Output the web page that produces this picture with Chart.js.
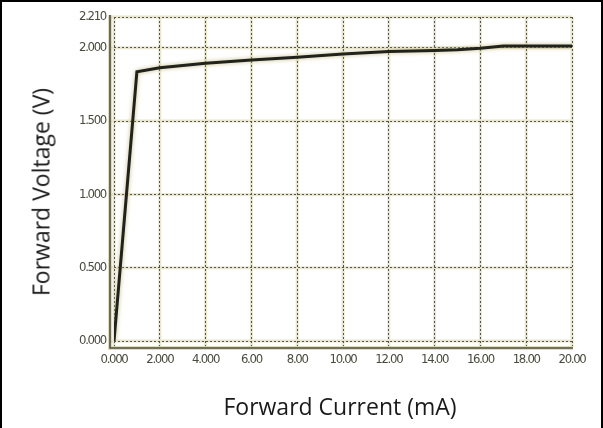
<!DOCTYPE html>
<html>
<head>
<meta charset="utf-8">
<script src="https://cdn.jsdelivr.net/npm/chart.js@4.4.1/dist/chart.umd.min.js"></script>
<style>
  html, body { margin: 0; padding: 0; background: #fff; }
  #wrap { position: relative; width: 603px; height: 428px; overflow: hidden; background: #fff; }
  #plot { position: absolute; left: 0; top: 0; width: 603px; height: 428px; filter: blur(0.5px); }
  #frame { position: absolute; left: 0; top: 0; width: 603px; height: 428px; box-sizing: border-box;
           border-top: 2px solid #000; border-left: 2px solid #000; border-right: 2px solid #000; pointer-events: none; }
  .axis-title { position: absolute; font-family: "Open Sans", "Noto Sans", sans-serif; font-size: 23px; color: #1a1a1a; white-space: nowrap; line-height: 1; }
  #ytitle { left: 41px; top: 192px; transform: translate(-50%, -50%) rotate(-90deg); }
  #xtitle { left: 340px; top: 406px; transform: translate(-50%, -50%); }
</style>
</head>
<body>
<div id="wrap">
  <div id="plot"><canvas id="c" width="603" height="428"></canvas></div>
  <div id="ytitle" class="axis-title">Forward Voltage (V)</div>
  <div id="xtitle" class="axis-title">Forward Current (mA)</div>
  <div id="frame"></div>
</div>
<script>
// Forward voltage vs forward current of an LED
const currentMA = [0, 1, 2, 4, 6, 8, 10, 12, 14, 15, 16, 17, 20];
const voltageV  = [0, 1.837, 1.864, 1.894, 1.916, 1.935, 1.957, 1.974, 1.982, 1.986, 1.997, 2.012, 2.012];

const xTickValues = [0, 2, 4, 6, 8, 10, 12, 14, 16, 18, 20];
const xTickLabels = ['0.000', '2.000', '4.000', '6.00', '8.00', '10.00', '12.00', '14.00', '16.00', '18.00', '20.00'];
const yTickValues = [0, 0.5, 1.0, 1.5, 2.0, 2.21];
const yTickLabels = ['0.000', '0.500', '1.000', '1.500', '2.000', '2.210'];

const points = currentMA.map((x, i) => ({ x: x, y: voltageV[i] }));

const gridColor = '#55554a';
const tickFont = { family: '"DejaVu Sans Condensed", "DejaVu Sans", sans-serif', size: 13 };

// tight letter spacing for the narrow tick labels
const tightText = {
  id: 'tightText',
  beforeDraw(chart) { chart.ctx.letterSpacing = '-1.3px'; }
};

// pale halo under grid lines, plus the axis lines offset from the data area
const backdrop = {
  id: 'backdrop',
  beforeDraw(chart) {
    const { ctx, chartArea: a, scales: { x, y } } = chart;
    ctx.save();
    ctx.strokeStyle = 'rgba(228,226,200,0.85)';
    ctx.lineWidth = 3;
    ctx.beginPath();
    xTickValues.forEach(v => { const p = x.getPixelForValue(v); ctx.moveTo(p, a.top); ctx.lineTo(p, a.bottom + 6); });
    yTickValues.forEach(v => { const p = y.getPixelForValue(v); ctx.moveTo(a.left - 4, p); ctx.lineTo(a.right, p); });
    ctx.stroke();
    ctx.restore();
  },
  beforeDatasetsDraw(chart) {
    const { ctx, chartArea: a } = chart;
    ctx.save();
    ctx.strokeStyle = 'rgba(220,216,180,0.9)';
    ctx.lineWidth = 4;
    ctx.beginPath();
    ctx.moveTo(a.left - 4, a.top - 2);
    ctx.lineTo(a.left - 4, a.bottom + 7);
    ctx.lineTo(a.right + 1, a.bottom + 7);
    ctx.stroke();
    ctx.strokeStyle = '#4e4e40';
    ctx.lineWidth = 1.6;
    ctx.stroke();
    ctx.restore();
  }
};

// soft halo around the curve
const curveGlow = {
  id: 'curveGlow',
  beforeDatasetDraw(chart) {
    const ctx = chart.ctx;
    ctx.save();
    ctx.shadowColor = 'rgba(190,180,120,0.9)';
    ctx.shadowBlur = 4;
  },
  afterDatasetDraw(chart) {
    chart.ctx.restore();
  }
};

new Chart(document.getElementById('c'), {
  type: 'line',
  data: {
    datasets: [{
      data: points,
      borderColor: '#22221c',
      borderWidth: 3,
      pointRadius: 0,
      tension: 0,
      fill: false
    }]
  },
  options: {
    responsive: false,
    animation: false,
    events: [],
    layout: { padding: { top: 17, right: 31, left: 0, bottom: 0 } },
    plugins: { legend: { display: false }, tooltip: { enabled: false } },
    scales: {
      x: {
        type: 'linear',
        min: 0, max: 20,
        afterBuildTicks: s => { s.ticks = xTickValues.map(v => ({ value: v })); },
        afterFit: s => { s.height = 87; },
        border: { display: false, dash: [2, 2] },
        grid: { color: gridColor, lineWidth: 1, tickLength: 7, tickColor: gridColor, tickBorderDash: [2, 2] },
        ticks: {
          font: tickFont, color: '#4a4a3e', padding: 4, maxRotation: 0, autoSkip: false,
          callback: (v) => { const i = xTickValues.indexOf(v); return i >= 0 ? xTickLabels[i] : ''; }
        }
      },
      y: {
        type: 'linear',
        min: 0, max: 2.21,
        afterBuildTicks: s => { s.ticks = yTickValues.map(v => ({ value: v })); },
        afterFit: s => { s.width = 114; },
        border: { display: false, dash: [2, 2] },
        grid: { color: gridColor, lineWidth: 1, tickLength: 4, tickColor: gridColor, tickBorderDash: [2, 2] },
        ticks: {
          font: tickFont, color: '#4a4a3e', padding: 4, autoSkip: false,
          callback: (v) => { const i = yTickValues.indexOf(v); return i >= 0 ? yTickLabels[i] : ''; }
        }
      }
    }
  },
  plugins: [tightText, backdrop, curveGlow]
});
</script>
</body>
</html>
